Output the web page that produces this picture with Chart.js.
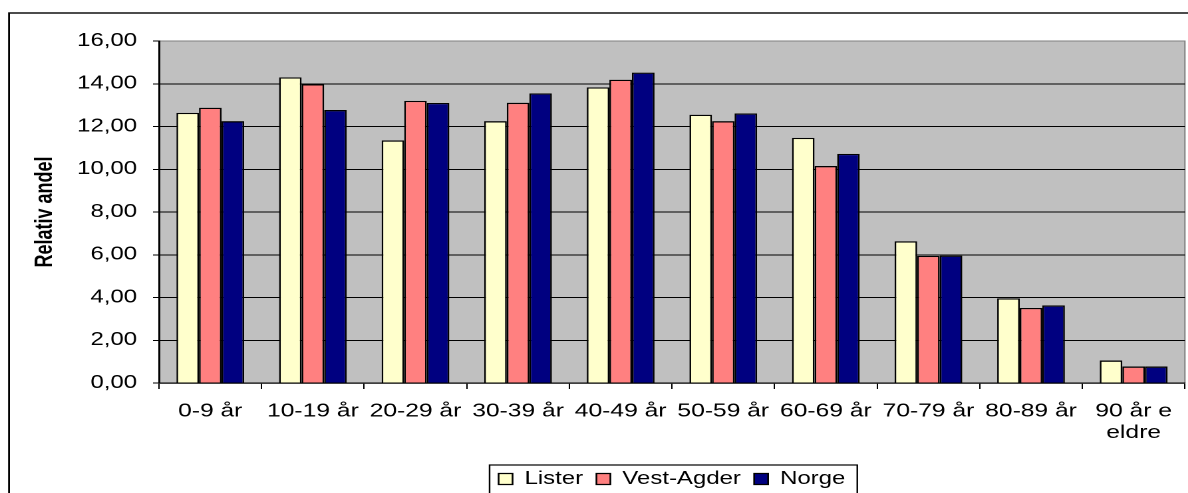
<!DOCTYPE html>
<html>
<head>
<meta charset="utf-8">
<script src="https://cdn.jsdelivr.net/npm/chart.js@4/dist/chart.umd.min.js"></script>
<style>
  html, body { margin: 0; padding: 0; background: #fff; overflow: hidden; }
  /* the original picture is stretched sideways, so the chart is drawn narrow and widened */
  #wrap { position: absolute; left: 0; top: 0; width: 893px; height: 493px; transform: scaleX(1.3304); transform-origin: 0 0; }
</style>
</head>
<body>
<div id="wrap"><canvas id="myChart" width="893" height="493"></canvas></div>
<script>
const categories = ['0-9 år', '10-19 år', '20-29 år', '30-39 år', '40-49 år', '50-59 år', '60-69 år', '70-79 år', '80-89 år', ['90 år e', 'eldre']]
const lister = [12.64, 14.30, 11.35, 12.25, 13.83, 12.55, 11.47, 6.63, 3.96, 1.05]
const vestAgder = [12.88, 13.98, 13.20, 13.11, 14.19, 12.25, 10.15, 5.95, 3.51, 0.77]
const norge = [12.25, 12.77, 13.10, 13.55, 14.52, 12.61, 10.72, 5.96, 3.63, 0.77]
const yTickLabels = ['0,00', '2,00', '4,00', '6,00', '8,00', '10,00', '12,00', '14,00', '16,00']

const ctx = document.getElementById('myChart')
const font = 'Liberation Sans, Arial, sans-serif'

// gray plot background, gray top/right edge, outer frame
const frame = {
    id: 'frame',
    beforeDraw(chart) {
        const c = chart.ctx
        const a = chart.chartArea
        c.save()
        c.fillStyle = '#fff'
        c.fillRect(0, 0, chart.width, chart.height)
        c.fillStyle = '#c0c0c0'
        c.fillRect(a.left, a.top, a.right - a.left, a.bottom - a.top)
        c.strokeStyle = '#808080'
        c.lineWidth = 1
        c.beginPath()
        c.moveTo(a.left, a.top)
        c.lineTo(a.right, a.top)
        c.lineTo(a.right, a.bottom)
        c.stroke()
        c.strokeStyle = '#000'
        c.lineWidth = 1.4
        c.strokeRect(6.8, 13, chart.width + 20, chart.height + 20)
        c.restore()
    },
    afterDraw(chart) {
        // box round the legend
        const lg = chart.legend
        const hb = lg.legendHitBoxes
        if (!hb || !hb.length) return
        const c = chart.ctx
        const left = hb[0].left - 6.8
        const last = hb[hb.length - 1]
        const right = last.left + last.width + 9
        c.save()
        c.strokeStyle = '#000'
        c.lineWidth = 1.2
        c.strokeRect(left, lg.top + 5, right - left, 60)
        c.restore()
    }
}

new Chart(ctx, {
    type: 'bar',
    data: {
        labels: categories,
        datasets: [{
            label: 'Lister',
            data: lister,
            backgroundColor: '#ffffcc',
            borderColor: '#000',
            borderWidth: 1.3
        },
        {
            label: 'Vest-Agder',
            data: vestAgder,
            backgroundColor: '#ff8080',
            borderColor: '#000',
            borderWidth: 1.3
        },
        {
            label: 'Norge',
            data: norge,
            backgroundColor: '#000080',
            borderColor: '#000',
            borderWidth: 1.3
        }
        ]
    },
    options: {
        responsive: false,
        devicePixelRatio: 2,
        animation: false,
        layout: {
            padding: { top: 41, right: 2.3, bottom: -5, left: 0 }
        },
        datasets: {
            bar: {
                categoryPercentage: 0.66,
                barPercentage: 1
            }
        },
        plugins: {
            tooltip: { enabled: false },
            legend: {
                position: 'bottom',
                fullSize: false,
                labels: {
                    boxWidth: 10.5,
                    boxHeight: 11,
                    padding: 10,
                    color: '#000',
                    font: { family: font, size: 18 }
                }
            }
        },
        scales: {
            x: {
                afterFit(scale) { scale.height = 77 },
                grid: {
                    drawOnChartArea: false,
                    offset: true,
                    tickLength: 6,
                    color: '#000'
                },
                border: { color: '#000', width: 1.2 },
                ticks: {
                    color: '#000',
                    padding: 12,
                    maxRotation: 0,
                    autoSkip: false,
                    font: { family: font, size: 18.5, lineHeight: 1.15 }
                }
            },
            y: {
                min: 0,
                max: 16,
                afterFit(scale) { scale.width = 119.5 },
                grid: {
                    color: (c) => c.tick && c.tick.value === 16 ? '#808080' : '#000',
                    tickColor: '#000',
                    tickLength: 4.5,
                    lineWidth: 1
                },
                border: { color: '#000', width: 1.5 },
                ticks: {
                    stepSize: 2,
                    color: '#000',
                    padding: 12,
                    font: { family: font, size: 18 },
                    callback: (v, i) => yTickLabels[i]
                },
                title: {
                    display: true,
                    text: 'Relativ andel',
                    color: '#000',
                    padding: { top: 23, bottom: 0 },
                    font: { family: font, size: 18, weight: 'bold', lineHeight: 1.2 }
                }
            }
        }
    },
    plugins: [frame]
});
</script>
</body>
</html>
